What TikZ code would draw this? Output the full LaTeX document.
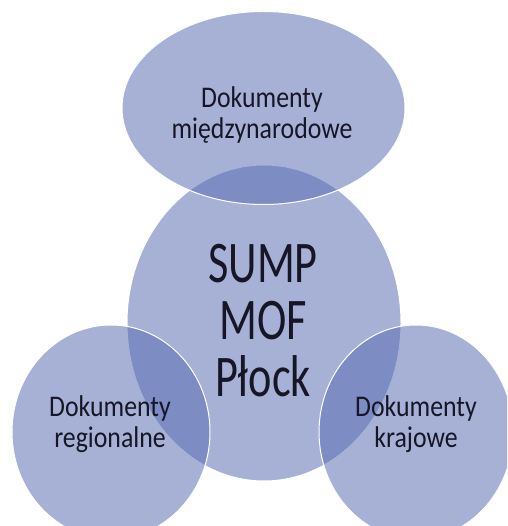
\documentclass[tikz,border=0pt]{standalone}
\usepackage{fontspec}
\newfontfamily\smallf[FakeStretch=0.86]{Carlito}
\newfontfamily\bigf[FakeStretch=0.75]{Carlito}
\definecolor{blob}{RGB}{88,108,178}
\definecolor{ink}{RGB}{22,22,38}
\begin{document}
\begin{tikzpicture}[x=1pt,y=1pt,
  blobstyle/.style={fill=blob, fill opacity=0.53, draw=white, draw opacity=1, line width=1pt},
  lbl/.style={text=ink, font=\smallf\fontsize{30}{31}\selectfont, align=center, inner sep=0pt, anchor=base},
  biglbl/.style={text=ink, font=\bigf\fontsize{59}{57}\selectfont, align=center, inner sep=0pt, anchor=base}
]
\useasboundingbox (0,0) rectangle (507,526);
\clip (0,0) rectangle (507,526);
\path[blobstyle] (264,203) ellipse [x radius=137, y radius=158];
\path[blobstyle] (263.5,418) ellipse [x radius=141.5, y radius=96.5];
\path[blobstyle] (111,94) ellipse [x radius=99, y radius=107];
\path[blobstyle] (416,94) ellipse [x radius=97, y radius=107];
% anchor=base sits on the last line's baseline
\node[lbl] (top) at (262,387) {Dokumenty\\międzynarodowe};
\node[biglbl] (mid) at (263,129) {SUMP\\MOF\\Płock};
\node[lbl] (left) at (110,78) {Dokumenty\\regionalne};
\node[lbl] (right) at (416,78) {Dokumenty\\krajowe};
\end{tikzpicture}
\end{document}
